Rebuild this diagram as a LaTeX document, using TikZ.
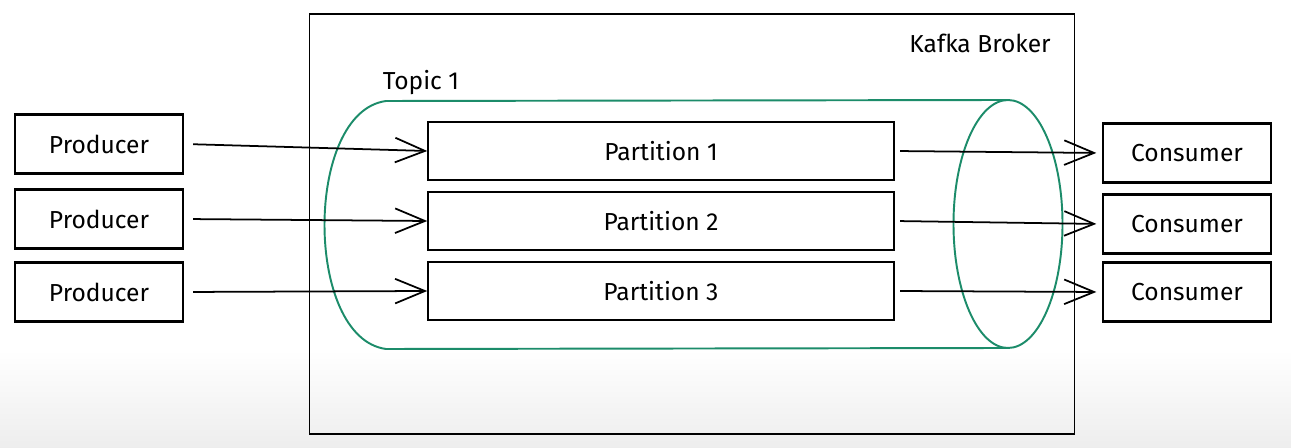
\documentclass[tikz,border=0pt]{standalone}
\usepackage{fontspec}
\setmainfont{Fira Sans}
\usetikzlibrary{arrows.meta}
\definecolor{topicgreen}{RGB}{28,140,106}

\begin{document}
\begin{tikzpicture}[x=0.02cm,y=-0.02cm,
	font=\fontsize{14}{16}\selectfont,
	client/.style={draw,line width=1.6pt,minimum width=3.36cm,minimum height=1.18cm},
	partbox/.style={draw,line width=0.9pt,minimum width=9.32cm,minimum height=1.16cm},
	msg/.style={line width=1pt,-{Straight Barb[length=17pt,width=14pt,line width=1pt]}}]
	% background
	\useasboundingbox (0,0) rectangle (1291,448);
	\fill[white] (0,0) rectangle (1291,350);
	\shade[top color=white,bottom color=gray!14] (0,350) rectangle (1291,448);
	% draw broker
	\node[draw,line width=0.8pt,minimum width=15.3cm,minimum height=8.4cm] (broker) at (692,224) {};
	\node (brokerlabel) at (980,43) {Kafka Broker};
	% draw topic
	\node (topiclabel) at (421,83) {Topic 1};
	\draw[topicgreen,line width=1.1pt] (1007,100) -- (386,101)
		.. controls (304,112) and (304,338) .. (386,349) -- (1007,348);
	\draw[topicgreen,line width=1.1pt] (1008,224) ellipse [x radius=54.5,y radius=124];
	% draw producers, partitions and consumers
	\foreach \i/\py/\ty/\cy in {1/144/151/153,2/219/221/224,3/292/291/292}
	{
		\node[client] (prod\i) at (99,\py) {Producer};
		\node[partbox] (part\i) at (661,\ty) {Partition \i};
		\node[client] (cons\i) at (1187,\cy) {Consumer};
	}
	% draw messages
	\foreach \i in {1,2,3}
	{
		\draw[msg,shorten <=5pt] (prod\i.east) -- (part\i.west);
		\draw[msg,shorten <=3pt,shorten >=3pt] (part\i.east) -- (cons\i.west);
	}
\end{tikzpicture}
\end{document}
